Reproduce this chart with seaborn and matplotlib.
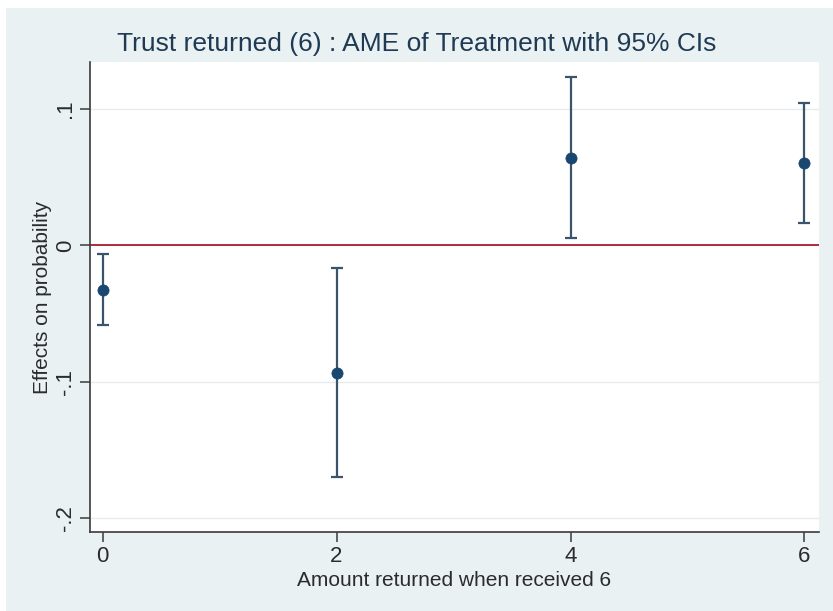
import matplotlib
matplotlib.use("Agg")
import matplotlib.pyplot as plt
from matplotlib.patches import Rectangle
import seaborn as sns
import pandas as pd

# Average marginal effects of treatment, by amount returned, with 95% CIs
amount = [0, 2, 4, 6]
effect = [-0.0326, -0.0935, 0.0642, 0.0607]
ci_low = [-0.0586, -0.1703, 0.0054, 0.0164]
ci_high = [-0.0066, -0.0167, 0.1234, 0.1044]
xticks = [0, 2, 4, 6]
yticks = [-0.2, -0.1, 0.0, 0.1]
ytick_labels = ["-.2", "-.1", "0", ".1"]

df = pd.DataFrame({"amount": amount, "effect": effect,
                   "lo": ci_low, "hi": ci_high})

sns.set_theme(style="white")
font = ["Liberation Sans Narrow", "Liberation Sans", "DejaVu Sans"]
plt.rcParams["font.family"] = font

bg = "#e9f1f3"
navy = "#1a476f"
text_col = "#2b2b2b"

fig = plt.figure(figsize=(8.33, 6.11), dpi=100, facecolor="white")
fig.patches.append(Rectangle((6 / 833, -0.01), 1.1, 1.01 - 8 / 611,
                             transform=fig.transFigure, facecolor=bg,
                             edgecolor="none", zorder=-10))
ax = fig.add_axes([90 / 833, 1 - 532 / 611, (819 - 90) / 833, (532 - 62) / 611])
ax.set_facecolor("white")

# grid lines and zero reference
for y in yticks:
    ax.axhline(y, color="#e6ecee", lw=1.0, zorder=0)
ax.axhline(0, color="#a51c30", lw=1.3, zorder=1)

# confidence intervals
ax.errorbar(df["amount"], df["effect"],
            yerr=[df["effect"] - df["lo"], df["hi"] - df["effect"]],
            fmt="none", ecolor="#3a546c", elinewidth=1.6,
            capsize=4.5, capthick=1.6, zorder=2)
sns.scatterplot(data=df, x="amount", y="effect", ax=ax, color=navy,
                s=65, edgecolor=navy, linewidth=0.5, zorder=3, legend=False)

ax.set_xlim(-0.107, 6.124)
ax.set_ylim(-0.2103, 0.1345)
ax.set_xticks(xticks)
ax.set_xticklabels([str(t) for t in xticks])
ax.set_yticks(yticks)
ax.set_yticklabels(ytick_labels, rotation=90, va="center")

for side in ["top", "right"]:
    ax.spines[side].set_visible(False)
for side in ["left", "bottom"]:
    ax.spines[side].set_color("#3a3a3a")
    ax.spines[side].set_linewidth(1.2)

ax.tick_params(axis="both", which="major", length=7, width=1.1,
               color="#3a3a3a", labelsize=16, labelcolor=text_col,
               left=True, bottom=True, direction="out", pad=3)

ax.set_xlabel("Amount returned when received 6", fontsize=15,
              color=text_col, labelpad=3)
ax.set_ylabel("Effects on probability", fontsize=15, color=text_col,
              labelpad=2)

fig.text(417 / 833, 1 - 44 / 611,
         "Trust returned (6) : AME of Treatment with 95% CIs",
         ha="center", va="center", fontsize=19, color="#1f3a52")

fig.savefig("out.png", dpi=100, facecolor="white")
